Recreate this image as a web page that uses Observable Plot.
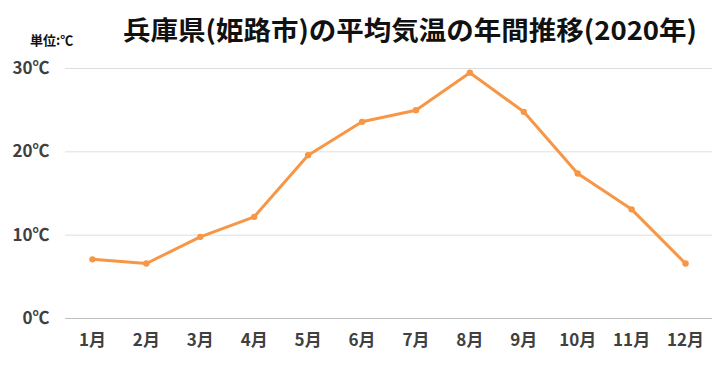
<!DOCTYPE html>
<html><head><meta charset="utf-8">
<script src="https://cdn.jsdelivr.net/npm/d3@7"></script>
<script src="https://cdn.jsdelivr.net/npm/@observablehq/plot@0.6"></script>
<style>
body{margin:0;background:#fff;font-family:"Noto Sans CJK JP",sans-serif;}
#wrap{position:relative;width:715px;height:367px;}
#title{position:absolute;left:123px;top:11px;white-space:nowrap;font-size:26px;font-weight:bold;color:#111;line-height:36px;}
#unit{position:absolute;left:30px;top:30px;font-size:13px;color:#111;font-weight:bold}
</style></head><body>
<div id="wrap"><div id="title">兵庫県(姫路市)の平均気温の年間推移(2020年)</div><div id="unit">単位:℃</div><div id="chart"></div></div>
<script>
const months = ["1月","2月","3月","4月","5月","6月","7月","8月","9月","10月","11月","12月"];
const temps = [7.1, 6.6, 9.8, 12.2, 19.6, 23.6, 25.0, 29.5, 24.8, 17.4, 13.1, 6.6];
const yTicks = [0, 10, 20, 30];
const data = months.map((m, i) => ({month: m, temp: temps[i]}));
const chart = Plot.plot({
  width: 715, height: 367,
  marginTop: 68, marginBottom: 49, marginLeft: 65, marginRight: 3,
  style: {fontFamily: '"Noto Sans CJK JP", sans-serif', fontSize: "17px", fontWeight: "bold", color: "#404040", background: "#fff"},
  x: {type: "point", domain: months, padding: 0.5, round: false, label: null, tickSize: 0, tickPadding: 15},
  y: {domain: [0, 30], ticks: yTicks, tickFormat: d => d + "℃", label: null, tickSize: 0, tickPadding: 16},
  marks: [
    Plot.gridY(yTicks.filter(d => d > 0), {stroke: "#dedede", strokeOpacity: 1, strokeWidth: 1}),
    Plot.ruleY([0], {stroke: "#bfbfbf", strokeWidth: 1.2}),
    Plot.line(data, {x: "month", y: "temp", stroke: "#f79646", strokeWidth: 3}),
    Plot.dot(data, {x: "month", y: "temp", fill: "#f79646", r: 3.2})
  ]
});
document.getElementById("chart").appendChild(chart);
const t = document.getElementById("title");
const w = t.getBoundingClientRect().width;
t.style.transform = `scaleX(${574 / w})`;
t.style.transformOrigin = "left center";
</script></body></html>
